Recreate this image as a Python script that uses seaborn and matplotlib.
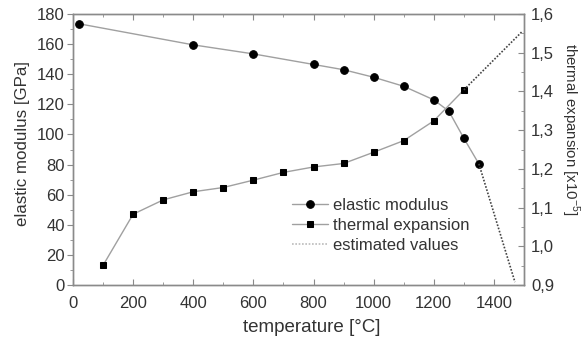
import numpy as np
import pandas as pd
import matplotlib
matplotlib.use('Agg')
import matplotlib.pyplot as plt
import seaborn as sns
from matplotlib.ticker import FuncFormatter, MultipleLocator

# elastic modulus (left axis)
mod_temp = [20, 400, 600, 800, 900, 1000, 1100, 1200, 1250, 1300, 1350]
mod_val = [173.5, 159.5, 153.5, 146.5, 143, 138, 132, 123, 115.5, 97.5, 80.5]
# estimated continuation
mod_est_temp = [1350, 1470]
mod_est_val = [80.5, 2]

# thermal expansion (right axis, x10^-5)
exp_temp = [100, 200, 300, 400, 500, 600, 700, 800, 900, 1000, 1100, 1200, 1300]
exp_val = [0.951, 1.083, 1.120, 1.141, 1.152, 1.171, 1.191, 1.205, 1.214, 1.243, 1.273, 1.324, 1.404]
exp_est_temp = [1300, 1493]
exp_est_val = [1.404, 1.554]

sns.set_style('white')
plt.rcParams['font.family'] = ['Liberation Sans', 'DejaVu Sans']
plt.rcParams['mathtext.fontset'] = 'custom'
plt.rcParams['mathtext.rm'] = 'Liberation Sans'

text_c = '#333333'
spine_c = '#8a8a8a'
line_c = '#a0a0a0'

fig = plt.figure(figsize=(5.82, 3.37), dpi=100)
ax = fig.add_axes([0.1254, 0.154, 0.7749, 0.8045])
ax2 = ax.twinx()

sns.lineplot(x=mod_temp, y=mod_val, ax=ax, color=line_c, lw=1.0, marker='o',
             markersize=5.5, markerfacecolor='black', markeredgecolor='black',
             label='elastic modulus', legend=False)
ax.plot(mod_est_temp, mod_est_val, ls=(0, (1, 1)), color='#444444', lw=1.2)

sns.lineplot(x=exp_temp, y=exp_val, ax=ax2, color=line_c, lw=1.0, marker='s',
             markersize=5, markerfacecolor='black', markeredgecolor='black',
             label='thermal expansion', legend=False)
ax2.plot(exp_est_temp, exp_est_val, ls=(0, (1, 1)), color='#444444', lw=1.2)

ax.set_xlim(0, 1500)
ax.set_ylim(0, 180)
ax2.set_ylim(0.9, 1.6)

ax.xaxis.set_major_locator(MultipleLocator(200))
ax.xaxis.set_minor_locator(MultipleLocator(100))
ax.yaxis.set_major_locator(MultipleLocator(20))
ax.yaxis.set_minor_locator(MultipleLocator(10))
ax2.yaxis.set_major_locator(MultipleLocator(0.1))
ax2.yaxis.set_minor_locator(MultipleLocator(0.05))
ax2.yaxis.set_major_formatter(FuncFormatter(lambda v, p: f'{v:.1f}'.replace('.', ',')))

fs_tick = 12
ax.tick_params(axis='x', which='both', direction='in', top=True, bottom=True,
               colors=spine_c, labelcolor=text_c, labelsize=fs_tick, pad=8)
ax.tick_params(axis='x', which='major', length=4)
ax.tick_params(axis='x', which='minor', length=2)
ax.tick_params(axis='y', which='both', direction='out', left=True,
               colors=spine_c, labelcolor=text_c, labelsize=fs_tick, pad=2)
ax.tick_params(axis='y', which='major', length=4)
ax.tick_params(axis='y', which='minor', length=2)
ax2.tick_params(axis='y', which='both', direction='in', right=True,
                colors=spine_c, labelcolor=text_c, labelsize=fs_tick, pad=5)
ax2.tick_params(axis='y', which='major', length=4)
ax2.tick_params(axis='y', which='minor', length=2)

for a in (ax, ax2):
    for s in a.spines.values():
        s.set_color(spine_c)
        s.set_linewidth(1.0)

ax.set_xlabel('temperature [°C]', fontsize=13.5, color=text_c, va='center')
ax.xaxis.set_label_coords(0.53, -0.155)
ax.set_ylabel('elastic modulus [GPa]', fontsize=12.2, color=text_c,
              va='center', ha='center')
ax.yaxis.set_label_coords(-0.113, 0.522)
ax2.set_ylabel(r'thermal expansion [x10$^{-5}$]', fontsize=10.8, color=text_c,
               rotation=270, va='center', ha='center')
ax2.yaxis.set_label_coords(1.102, 0.576)

h1, l1 = ax.get_legend_handles_labels()
h2, l2 = ax2.get_legend_handles_labels()
h3 = plt.Line2D([], [], ls=(0, (1, 1)), color='#bbbbbb', lw=1.2)
leg = ax2.legend(h1 + h2 + [h3], l1 + l2 + ['estimated values'],
                 loc='upper left', bbox_to_anchor=(0.47, 0.345), frameon=False,
                 fontsize=12, handlelength=2.2, handletextpad=0.3,
                 labelspacing=0.3, borderaxespad=0)
for t in leg.get_texts():
    t.set_color(text_c)

fig.savefig('out.png', dpi=100)
